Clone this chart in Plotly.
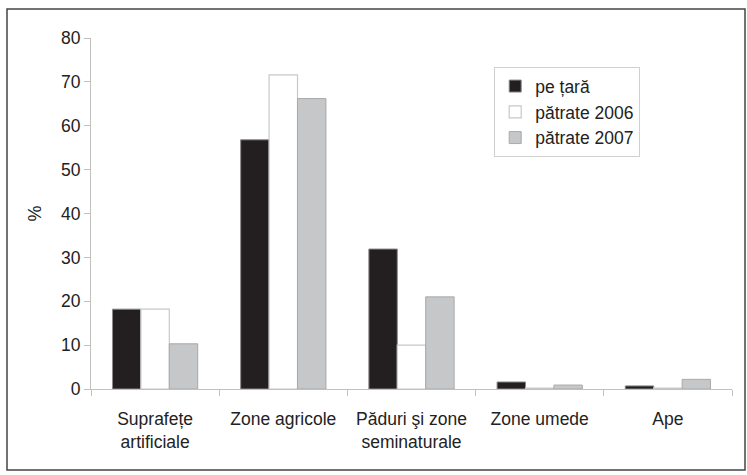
import plotly.graph_objects as go

categories = ["Suprafețe<br>artificiale", "Zone agricole", "Păduri şi zone<br>seminaturale", "Zone umede", "Ape"]
pe_tara = [18.2, 56.8, 31.9, 1.6, 0.7]
patrate_2006 = [18.2, 71.6, 10.0, 0.2, 0.2]
patrate_2007 = [10.3, 66.2, 21.0, 0.9, 2.2]
y_ticks = [0, 10, 20, 30, 40, 50, 60, 70, 80]

W, H = 747, 475
L, R, T, B = 91, 15, 38, 86
pw, ph = W - L - R, H - T - B

def px(x):
    return (x - L) / pw

def py(y):
    return (H - B - y) / ph

fig = go.Figure()
fig.add_trace(go.Bar(name="pe țară", x=categories, y=pe_tara,
                     marker=dict(color="#231f20", line=dict(color="#8a8a8a", width=1)),
                     legendgroup="a"))
fig.add_trace(go.Bar(name="pătrate 2006", x=categories, y=patrate_2006,
                     marker=dict(color="#ffffff", line=dict(color="#c8c8c8", width=1.2)),
                     legendgroup="b"))
fig.add_trace(go.Bar(name="pătrate 2007", x=categories, y=patrate_2007,
                     marker=dict(color="#c6c7c9", line=dict(color="#a9a9a9", width=1)),
                     legendgroup="c"))

fig.update_layout(
    width=W, height=H,
    margin=dict(l=L, r=R, t=T, b=B),
    paper_bgcolor="white", plot_bgcolor="white",
    font=dict(family="Liberation Sans, Arial, sans-serif", size=18, color="#222222"),
    barmode="group", bargap=0.335, bargroupgap=0,
    showlegend=True,
    legend=dict(x=px(494), y=py(67), xanchor="left", yanchor="top",
                bgcolor="white", bordercolor="#d0d0d0", borderwidth=1.2,
                font=dict(size=17.5, color="#222222"), tracegroupgap=0,
                itemwidth=30),
    xaxis=dict(showline=True, linecolor="#c0c0c0", linewidth=1.2,
               ticks="outside", tickson="boundaries", ticklen=6, tickcolor="#c0c0c0",
               tickfont=dict(size=17.5), ticklabelstandoff=14,
               showgrid=False, zeroline=False),
    yaxis=dict(range=[0, 80], tickvals=y_ticks, showline=True, linecolor="#c0c0c0",
               linewidth=1.2, ticks="outside", ticklen=6, tickcolor="#c0c0c0",
               tickfont=dict(size=17.5), showgrid=False, zeroline=False,
               title=dict(text="%", font=dict(size=18), standoff=14)),
    shapes=[dict(type="rect", xref="paper", yref="paper",
                 x0=px(7), x1=px(745), y0=py(470), y1=py(9),
                 line=dict(color="#444444", width=1.5))],
)

fig.write_html("out.html", config={"displayModeBar": False},
               post_script="document.body.style.margin='0';")
